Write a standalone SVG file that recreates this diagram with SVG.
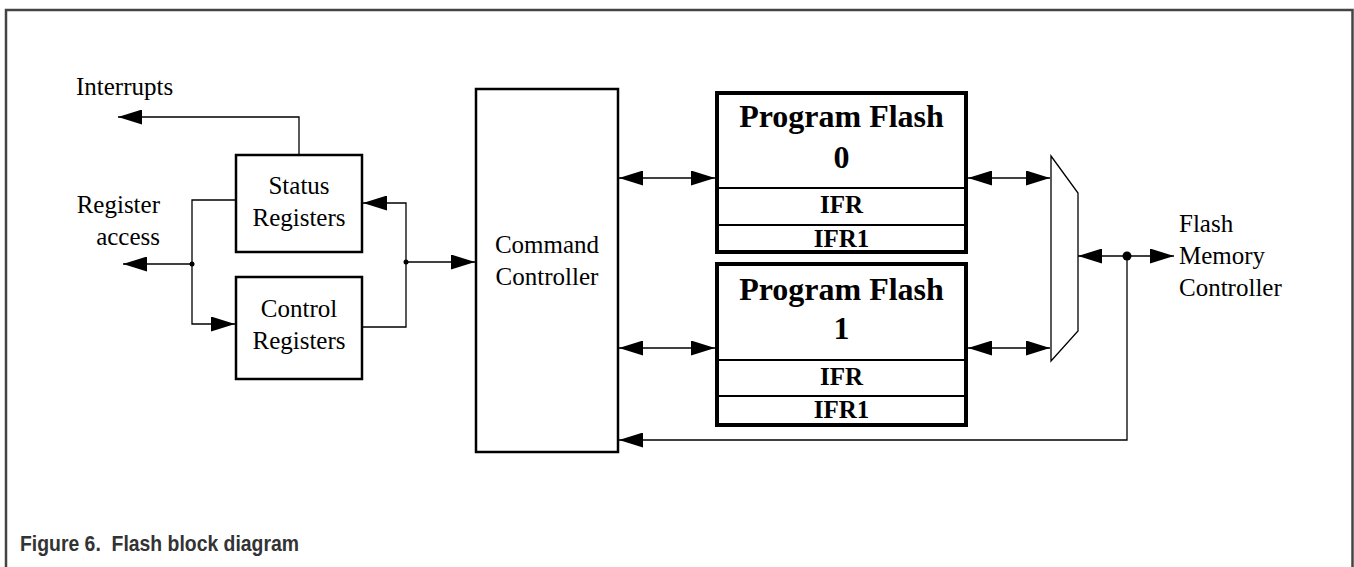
<svg xmlns="http://www.w3.org/2000/svg" width="1354" height="567" viewBox="0 0 1354 567">
<defs>
<style>
.t{font-family:"Liberation Serif","Times New Roman",serif;font-size:25px;fill:#000}
.b{font-family:"Liberation Serif","Times New Roman",serif;font-weight:bold;fill:#000}
.m{text-anchor:middle}
.box{fill:#fff;stroke:#000;stroke-width:2.5}
.pf{fill:#fff;stroke:#000;stroke-width:4}
.div{stroke:#000;stroke-width:2;fill:none}
.c{fill:none;stroke:#000;stroke-width:1.3}
.cap{font-family:"Liberation Sans",Arial,sans-serif;font-size:22px;font-weight:bold;fill:#333}
</style>
<marker id="ah" viewBox="0 0 24 15" refX="24" refY="7.5" markerWidth="24" markerHeight="15" markerUnits="userSpaceOnUse" orient="auto-start-reverse">
<path d="M0,0 L24,7.5 L0,15 z" fill="#000"/>
</marker>
</defs>
<rect x="0" y="0" width="1354" height="567" fill="#fff"/>
<path d="M6,570 V10 H1352.5 V570" fill="none" stroke="#444" stroke-width="2.5"/>

<g id="connectors">
<path class="c" d="M299,155 V117 H118" marker-end="url(#ah)"/>
<path class="c" d="M192,264 H123" marker-end="url(#ah)"/>
<path class="c" d="M236,200 H192 V324 H235" marker-end="url(#ah)"/>
<path class="c" d="M362,327 H406 V203 H363" marker-end="url(#ah)"/>
<path class="c" d="M406,262 H475" marker-end="url(#ah)"/>
<path class="c" d="M619,178 H715" marker-start="url(#ah)" marker-end="url(#ah)"/>
<path class="c" d="M619,348 H715" marker-start="url(#ah)" marker-end="url(#ah)"/>
<path class="c" d="M968,178 H1050" marker-start="url(#ah)" marker-end="url(#ah)"/>
<path class="c" d="M968,348 H1050" marker-start="url(#ah)" marker-end="url(#ah)"/>
<path class="c" d="M1078,256 H1174" marker-start="url(#ah)" marker-end="url(#ah)"/>
<path class="c" d="M1127,256 V440 H619" marker-end="url(#ah)"/>
<circle cx="192" cy="264" r="2.5" fill="#000"/>
<circle cx="406" cy="262" r="2.5" fill="#000"/>
<circle cx="1127" cy="256" r="4.5" fill="#000"/>
</g>

<g id="interrupts-label">
<text class="t" x="76" y="95">Interrupts</text>
</g>
<g id="register-access-label">
<text class="t" x="160" y="213" text-anchor="end">Register</text>
<text class="t" x="160" y="245" text-anchor="end">access</text>
</g>

<g id="status-registers">
<rect class="box" x="236" y="155" width="126" height="97"/>
<text class="t m" x="299" y="194">Status</text>
<text class="t m" x="299" y="226">Registers</text>
</g>

<g id="control-registers">
<rect class="box" x="236" y="277" width="126" height="102"/>
<text class="t m" x="299" y="317">Control</text>
<text class="t m" x="299" y="349">Registers</text>
</g>

<g id="command-controller">
<rect class="box" x="476" y="89" width="142" height="363" stroke-width="2"/>
<text class="t m" x="547" y="253">Command</text>
<text class="t m" x="547" y="285">Controller</text>
</g>

<g id="program-flash-0">
<rect class="pf" x="717" y="93" width="249" height="159"/>
<line class="div" x1="717" y1="188" x2="966" y2="188"/>
<line class="div" x1="717" y1="225" x2="966" y2="225"/>
<text class="b m" x="841.5" y="127" font-size="32">Program Flash</text>
<text class="b m" x="841.5" y="168" font-size="32">0</text>
<text class="b m" x="841.5" y="213" font-size="25">IFR</text>
<text class="b m" x="841.5" y="247" font-size="25">IFR1</text>
</g>

<g id="program-flash-1">
<rect class="pf" x="717" y="264" width="249" height="161"/>
<line class="div" x1="717" y1="360" x2="966" y2="360"/>
<line class="div" x1="717" y1="396" x2="966" y2="396"/>
<text class="b m" x="841.5" y="300" font-size="32">Program Flash</text>
<text class="b m" x="841.5" y="339" font-size="32">1</text>
<text class="b m" x="841.5" y="385" font-size="25">IFR</text>
<text class="b m" x="841.5" y="418" font-size="25">IFR1</text>
</g>

<g id="mux">
<path d="M1051,156 L1078,193 L1078,331 L1051,361 Z" fill="#fff" stroke="#000" stroke-width="1.3"/>
</g>

<g id="flash-memory-controller">
<text class="t" x="1179" y="232">Flash</text>
<text class="t" x="1179" y="264">Memory</text>
<text class="t" x="1179" y="296">Controller</text>
</g>

<g id="caption">
<text class="cap" x="20" y="551" textLength="279" lengthAdjust="spacingAndGlyphs">Figure 6.&#160; Flash block diagram</text>
</g>
</svg>
